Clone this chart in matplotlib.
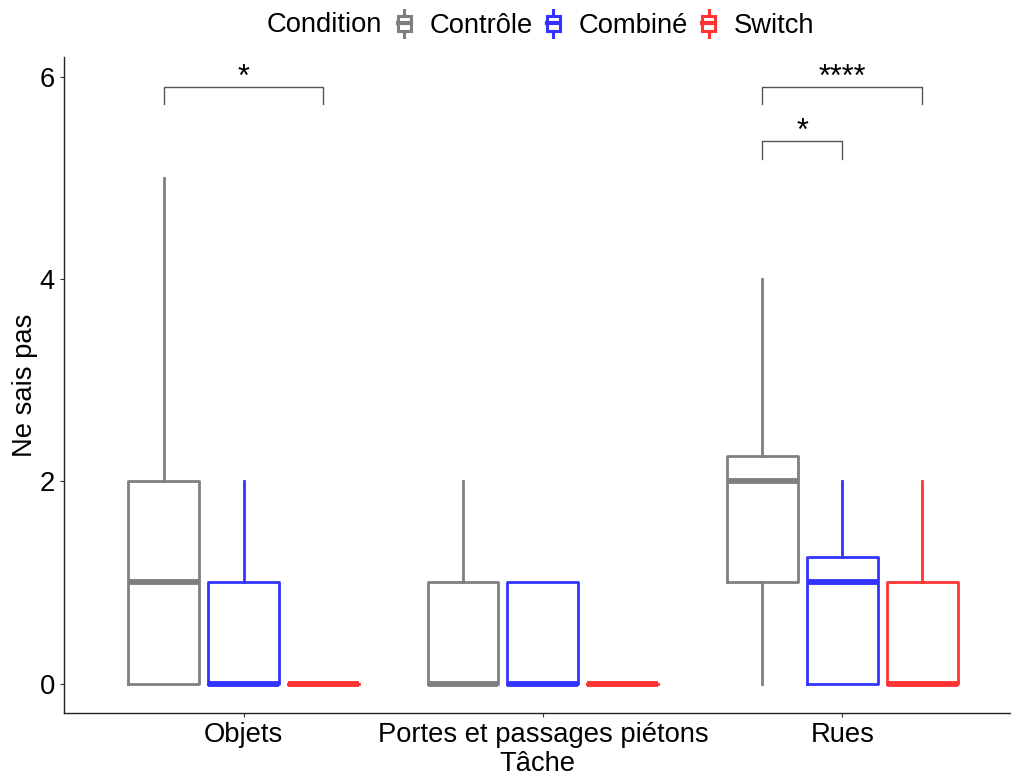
import matplotlib

matplotlib.use("Agg")

import matplotlib.pyplot as plt
from matplotlib.legend_handler import HandlerBase
from matplotlib.lines import Line2D
from matplotlib.patches import Rectangle

plt.rcParams["font.family"] = ["Liberation Sans", "DejaVu Sans"]

# Données
taches = ["Objets", "Portes et passages piétons", "Rues"]
conditions = ["Contrôle", "Combiné", "Switch"]
couleurs = ["#7f7f7f", "#3333ff", "#ff3333"]

# min moustache, Q1, médiane, Q3, max moustache  (par tâche, puis par condition)
whislo = [[0, 0, 0], [0, 0, 0], [0, 0, 0]]
q1 = [[0, 0, 0], [0, 0, 0], [1, 0, 0]]
med = [[1, 0, 0], [0, 0, 0], [2, 1, 0]]
q3 = [[2, 1, 0], [1, 1, 0], [2.25, 1.25, 1]]
whishi = [[5, 2, 0], [2, 1, 0], [4, 2, 2]]

# comparaisons significatives : (tâche, condition a, condition b, hauteur, label)
comp_tache = [0, 2, 2]
comp_a = [0, 0, 0]
comp_b = [2, 1, 2]
comp_y = [5.9, 5.36, 5.9]
comp_label = ["*", "*", "****"]

DODGE = 0.267
BOX_W = 0.237
FS = 19.7


class BoxKey(HandlerBase):
    """Petit glyphe de boîte à moustaches pour la légende."""

    def create_artists(self, legend, orig_handle, xdescent, ydescent, width, height, fontsize, trans):
        c = orig_handle.get_color()
        cx = width / 2 - xdescent
        w = width * 0.62
        y0 = -ydescent - height * 0.05
        y1 = -ydescent + height * 1.05
        b0 = -ydescent + height * 0.18
        b1 = -ydescent + height * 0.82
        mid = -ydescent + height * 0.5
        rect = Rectangle((cx - w / 2, b0), w, b1 - b0, fill=False, edgecolor=c, lw=2.2, transform=trans)
        whisk1 = Line2D([cx, cx], [y0, b0], color=c, lw=2.2, transform=trans)
        whisk2 = Line2D([cx, cx], [b1, y1], color=c, lw=2.2, transform=trans)
        median = Line2D([cx - w / 2, cx + w / 2], [mid, mid], color=c, lw=3, transform=trans)
        return [rect, whisk1, whisk2, median]


fig = plt.figure(figsize=(10.11, 7.76), dpi=100)
ax = fig.add_axes([0.0633, 0.0812, 0.9367, 0.8448])

for k, (cond, col) in enumerate(zip(conditions, couleurs)):
    stats = []
    pos = []
    for i in range(len(taches)):
        stats.append({
            "whislo": whislo[i][k], "q1": q1[i][k], "med": med[i][k],
            "q3": q3[i][k], "whishi": whishi[i][k], "fliers": [],
        })
        pos.append(i + 1 + (k - 1) * DODGE)
    ax.bxp(
        stats, positions=pos, widths=BOX_W, showcaps=False, showfliers=False,
        manage_ticks=False,
        boxprops=dict(color=col, lw=2.0),
        whiskerprops=dict(color=col, lw=2.0),
        medianprops=dict(color=col, lw=4.2, solid_capstyle="butt"),
    )

# crochets de significativité
for t, a, b, y, lab in zip(comp_tache, comp_a, comp_b, comp_y, comp_label):
    xa = t + 1 + (a - 1) * DODGE
    xb = t + 1 + (b - 1) * DODGE
    ax.plot([xa, xa, xb, xb], [y - 0.17, y, y, y - 0.17], color="#555555", lw=1.0)
    ax.text((xa + xb) / 2, y + 0.01, lab, ha="center", va="baseline", fontsize=22)

ax.set_xlim(0.4, 3.564)
ax.set_ylim(-0.29, 6.19)
ax.set_xticks(range(1, len(taches) + 1))
ax.set_xticklabels(taches)
ax.set_yticks([0, 2, 4, 6])
ax.tick_params(labelsize=FS, length=3, width=0.8, color="#333333", labelcolor="black")
ax.spines["top"].set_visible(False)
ax.spines["right"].set_visible(False)
for s in ("left", "bottom"):
    ax.spines[s].set_linewidth(1.0)
    ax.spines[s].set_color("#222222")
ax.set_xlabel("Tâche", fontsize=FS, labelpad=2)
ax.set_ylabel("Ne sais pas", fontsize=FS, labelpad=1)

# légende en haut, titre à gauche
fig.text(267 / 1011, 1 - 25 / 776, "Condition", fontsize=FS, ha="left", va="center")
handles = [Line2D([], [], color=c) for c in couleurs]
fig.legend(
    handles, conditions, loc="center left", bbox_to_anchor=(394 / 1011, 1 - 25 / 776),
    ncol=3, frameon=False, fontsize=FS, handler_map={Line2D: BoxKey()},
    handlelength=0.75, handleheight=1.0, handletextpad=0.55, columnspacing=0.38, borderpad=0,
    borderaxespad=0,
)

fig.savefig("out.png", dpi=100)
plt.close(fig)
